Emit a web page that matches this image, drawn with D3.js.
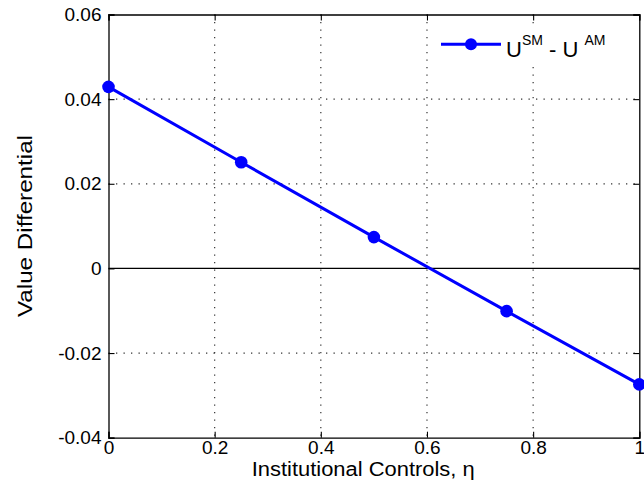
<!DOCTYPE html>
<html>
<head>
<meta charset="utf-8">
<script src="https://cdn.jsdelivr.net/npm/d3@7"></script>
<style>
  body { margin: 0; background: #fff; }
  svg { display: block; }
  text { font-family: "Liberation Sans", Arial, sans-serif; }
</style>
</head>
<body>
<svg id="chart" width="644" height="497"></svg>
<script>
const etaValues = [0, 0.25, 0.5, 0.75, 1];
const valueDifferential = [0.0429, 0.0251, 0.0074, -0.0101, -0.0274];
const xTicks = [0, 0.2, 0.4, 0.6, 0.8, 1];
const yTicks = [-0.04, -0.02, 0, 0.02, 0.04, 0.06];
const xLabelText = "Institutional Controls,  \u03b7";
const yLabelText = "Value Differential";

(function () {
const svg = d3.select("#chart");
const L = 108.5, R = 639.3, T = 14.5, B = 437.7;
const x = d3.scaleLinear().domain([0, 1]).range([L, R]);
const y = d3.scaleLinear().domain([-0.04, 0.06]).range([B, T]);
const FONT = "'Liberation Sans', Arial, sans-serif";

// grid
const grid = svg.append("g");
xTicks.forEach(t => {
  if (t === 0 || t === 1) return;
  grid.append("line").attr("x1", x(t)).attr("x2", x(t)).attr("y1", T).attr("y2", B)
    .attr("stroke", "#333").attr("stroke-width", 1.2).attr("stroke-dasharray", "1.3,6.2");
});
yTicks.forEach(t => {
  if (t === -0.04 || t === 0.06 || t === 0) return;
  grid.append("line").attr("x1", L).attr("x2", R).attr("y1", y(t)).attr("y2", y(t))
    .attr("stroke", "#333").attr("stroke-width", 1.2).attr("stroke-dasharray", "1.3,6.2");
});

// zero line
svg.append("line").attr("x1", L).attr("x2", R).attr("y1", y(0)).attr("y2", y(0))
  .attr("stroke", "#000").attr("stroke-width", 1.2);

// legend background (hides grid)
svg.append("rect").attr("x", 432).attr("y", 27).attr("width", 204).attr("height", 40).attr("fill", "#fff");

// axes with inward ticks
const xAxisB = d3.axisBottom(x).tickValues(xTicks).tickSize(-6).tickPadding(3).tickFormat(d3.format("~g"));
const xAxisT = d3.axisTop(x).tickValues(xTicks).tickSize(-6).tickFormat("");
const yAxisL = d3.axisLeft(y).tickValues(yTicks).tickSize(-6).tickPadding(7).tickFormat(d => d === 0 ? "0" : d3.format(".2f")(d).replace("\u2212", "-"));
const yAxisR = d3.axisRight(y).tickValues(yTicks).tickSize(-6).tickFormat("");

function style(g) {
  g.select(".domain").attr("stroke", "#000").attr("stroke-width", 1.3);
  g.selectAll(".tick line").attr("stroke", "#000").attr("stroke-width", 1.1);
  g.selectAll("text").attr("font-size", 19).attr("fill", "#000").style("font-family", FONT);
}
svg.append("g").attr("transform", `translate(0,${B})`).call(xAxisB).call(style);
svg.append("g").attr("transform", `translate(0,${T})`).call(xAxisT).call(style);
svg.append("g").attr("transform", `translate(${L},0)`).call(yAxisL).call(style);
svg.append("g").attr("transform", `translate(${R},0)`).call(yAxisR).call(style);

// series
const data = etaValues.map((e, i) => ({ e, v: valueDifferential[i] }));
svg.append("path").datum(data)
  .attr("d", d3.line().x(d => x(d.e)).y(d => y(d.v)))
  .attr("fill", "none").attr("stroke", "#0000ff").attr("stroke-width", 3);
svg.selectAll("circle.pt").data(data).join("circle").attr("class", "pt")
  .attr("cx", d => x(d.e)).attr("cy", d => y(d.v)).attr("r", 6.3).attr("fill", "#0000ff");

// axis labels
svg.append("text").attr("x", 251.7).attr("y", 476)
  .attr("font-size", 20).attr("textLength", 223).attr("lengthAdjust", "spacingAndGlyphs").text(xLabelText);
svg.append("text").attr("transform", `translate(31.5,317) rotate(-90)`)
  .attr("font-size", 21).attr("textLength", 182).attr("lengthAdjust", "spacingAndGlyphs").text(yLabelText);

// legend
svg.append("line").attr("x1", 441).attr("x2", 501).attr("y1", 44.3).attr("y2", 44.3)
  .attr("stroke", "#0000ff").attr("stroke-width", 3);
svg.append("circle").attr("cx", 471).attr("cy", 44.3).attr("r", 6).attr("fill", "#0000ff");
const lt = svg.append("text").attr("x", 506).attr("y", 56.5).attr("font-size", 22);
lt.append("tspan").text("U");
lt.append("tspan").attr("dy", -12).attr("font-size", 14).text("SM");
lt.append("tspan").attr("dy", 12).text(" - U ");
lt.append("tspan").attr("dy", -12).attr("font-size", 14).text(" AM");
})();
</script>
</body>
</html>
